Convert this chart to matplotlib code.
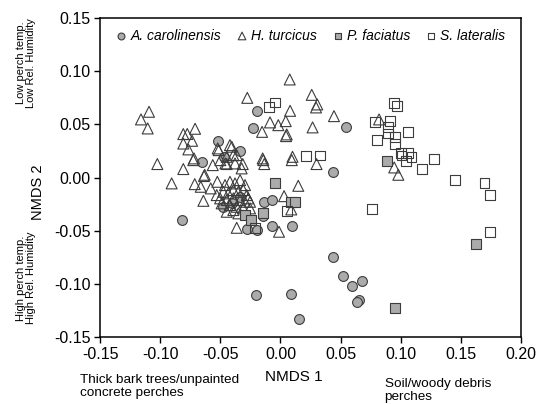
import numpy as np
import matplotlib.pyplot as plt

plt.rcParams['font.family'] = ['Liberation Sans', 'DejaVu Sans']

# NMDS coordinates
caro_x = [0.044, 0.052, 0.0595, 0.068, 0.0655, 0.0636, -0.0206, 0.0085, 0.015,
          0.0545, -0.0195, -0.023, -0.0517, -0.0655, -0.0469, -0.0336,
          -0.0818, -0.028, -0.0198, -0.0148, -0.0137, -0.007, -0.0068, 0.0098,
          0.0434, -0.0475, -0.034, -0.040]
caro_y = [-0.075, -0.093, -0.102, -0.097, -0.115, -0.117, -0.111, -0.110, -0.133,
          0.048, 0.0628, 0.0468, 0.0346, 0.0148, 0.019, 0.0249,
          -0.040, -0.048, -0.0494, -0.036, -0.0228, -0.0212, -0.0457, -0.0454,
          0.0054, -0.0275, -0.018, -0.024]

turc_x = [-0.1093, -0.116, -0.1104, -0.071, -0.0808, -0.0775, -0.0735, -0.0808, -0.0766,
          -0.1024, -0.0808, -0.0719, -0.063, -0.0522, -0.050, -0.0563, -0.0458,
          -0.0905, -0.0713, -0.0636, -0.0663, -0.058, -0.0641, -0.0525,
          -0.042, -0.0392, -0.0323, -0.0378,
          0.0077, -0.0276, 0.026, 0.0306, 0.0296, 0.008, 0.0445, -0.0153, -0.0087,
          -0.0018, 0.0044, 0.0052, 0.0046, 0.0267, 0.010, 0.0094, -0.0148, -0.0143,
          -0.0135, 0.030, 0.0148, 0.003, 0.009, -0.0012, -0.0364,
          0.082, 0.0946, 0.098,
          -0.0461, -0.042, -0.0378, -0.0336, -0.0295, -0.0475, -0.0434, -0.0392, -0.035,
          -0.0309, -0.028, -0.0502, -0.0447, -0.0392, -0.0336, -0.0295, -0.0268, -0.0489,
          -0.042, -0.0364, -0.0309, -0.0253, -0.0447, -0.035, -0.0253, -0.053, -0.0392,
          -0.0725, -0.0514, -0.0447, -0.0405, -0.0364, -0.0447, -0.0314]
turc_y = [0.0619, 0.0547, 0.0462, 0.0459, 0.0409, 0.041, 0.0346, 0.032, 0.0265,
          0.0127, 0.008, 0.018, 0.0026, 0.0274, 0.0164, 0.0117, 0.0133,
          -0.0055, -0.0062, 0.0014, -0.0087, -0.0102, -0.0219, -0.004,
          0.0305, 0.0211, 0.0086, 0.0133,
          0.0923, 0.075, 0.0778, 0.0688, 0.066, 0.0628, 0.0578, 0.043, 0.0519,
          0.0493, 0.0531, 0.0406, 0.039, 0.0472, 0.0195, 0.0164, 0.018, 0.0164,
          0.0127, 0.0127, -0.0078, -0.0175, -0.030, -0.051, -0.0473,
          0.0547, 0.0095, 0.0026,
          -0.0071, -0.004, -0.0055, -0.0024, -0.0071, -0.0134, -0.0149, -0.0118, -0.0134,
          -0.0118, -0.0165, -0.0196, -0.0212, -0.0196, -0.0212, -0.0228, -0.0196, -0.0243,
          -0.0259, -0.0275, -0.029, -0.029, -0.0322, -0.0337, -0.0228, -0.0165, -0.0306,
          0.0164, 0.0258, 0.0195, 0.029, 0.0211, 0.0127, 0.0127]

faci_x = [0.0955, 0.163, 0.0886, -0.0045, -0.0148, -0.0295, -0.0247, 0.0085, 0.012]
faci_y = [-0.1225, -0.063, 0.0152, -0.0055, -0.0332, -0.0353, -0.040, -0.0228, -0.0228]

late_x = [0.0946, 0.0966, 0.0786, 0.091, 0.0897, 0.0897, 0.106, 0.080, 0.0955, 0.0955,
          0.100, 0.106, 0.1007, 0.109, 0.1044, 0.1276, 0.1177, 0.1448, 0.1697, 0.174,
          0.0763, 0.174, -0.0043, -0.0098, 0.0212, 0.0329, 0.0056, -0.0212]
late_y = [0.070, 0.0675, 0.052, 0.053, 0.0477, 0.0415, 0.0428, 0.0352, 0.0378, 0.0315,
          0.0233, 0.0233, 0.0208, 0.019, 0.0152, 0.0177, 0.0077, -0.0024, -0.0049, -0.0168,
          -0.0297, -0.0513, 0.0707, 0.0666, 0.0202, 0.0208, -0.0316, -0.0473]

edge = '#3c3c3c'
grey = '#ababab'

fig = plt.figure(figsize=(5.41, 4.04), dpi=100)
ax = fig.add_axes([0.185, 0.166, 0.778, 0.789])

ax.scatter(caro_x, caro_y, s=50, marker='o', facecolor=grey, edgecolor=edge,
           linewidth=0.8, label='A. carolinensis', zorder=2)
ax.scatter(turc_x, turc_y, s=62, marker='^', facecolor='none', edgecolor=edge,
           linewidth=0.8, label='H. turcicus', zorder=3)
ax.scatter(faci_x, faci_y, s=50, marker='s', facecolor=grey, edgecolor=edge,
           linewidth=0.8, label='P. faciatus', zorder=4)
ax.scatter(late_x, late_y, s=50, marker='s', facecolor='none', edgecolor=edge,
           linewidth=0.8, label='S. lateralis', zorder=4)

ax.set_xlim(-0.15, 0.20)
ax.set_ylim(-0.15, 0.15)
ax.set_xticks(np.arange(-0.15, 0.2001, 0.05))
ax.set_yticks(np.arange(-0.15, 0.1501, 0.05))
ax.xaxis.set_major_formatter(plt.FormatStrFormatter('%.2f'))
ax.yaxis.set_major_formatter(plt.FormatStrFormatter('%.2f'))
ax.tick_params(direction='out', length=4, width=1, labelsize=11.5, colors='black', pad=3)
for sp in ax.spines.values():
    sp.set_linewidth(1.1)

leg = ax.legend(loc='upper center', ncol=4, frameon=False,
                handlelength=0.8, handletextpad=0.25, columnspacing=1.1,
                borderaxespad=0.35, markerscale=0.7,
                prop={'style': 'italic', 'size': 10})

# axis annotations
fig.text(0.048, 0.845, 'Low perch temp.\nLow Rel. Humidity', rotation=90,
         ha='center', va='center', fontsize=8, linespacing=1.05)
fig.text(0.07, 0.525, 'NMDS 2', rotation=90, ha='center', va='center', fontsize=10.5)
fig.text(0.048, 0.312, 'High perch temp.\nHigh Rel. Humidity', rotation=90,
         ha='center', va='center', fontsize=8, linespacing=1.05)
fig.text(0.148, 0.043, 'Thick bark trees/unpainted\nconcrete perches', ha='left',
         va='center', fontsize=9.7, linespacing=1.15)
fig.text(0.543, 0.067, 'NMDS 1', ha='center', va='center', fontsize=11)
fig.text(0.711, 0.033, 'Soil/woody debris\nperches', ha='left', va='center',
         fontsize=9.7, linespacing=1.15)

fig.savefig('out.png', dpi=100)
